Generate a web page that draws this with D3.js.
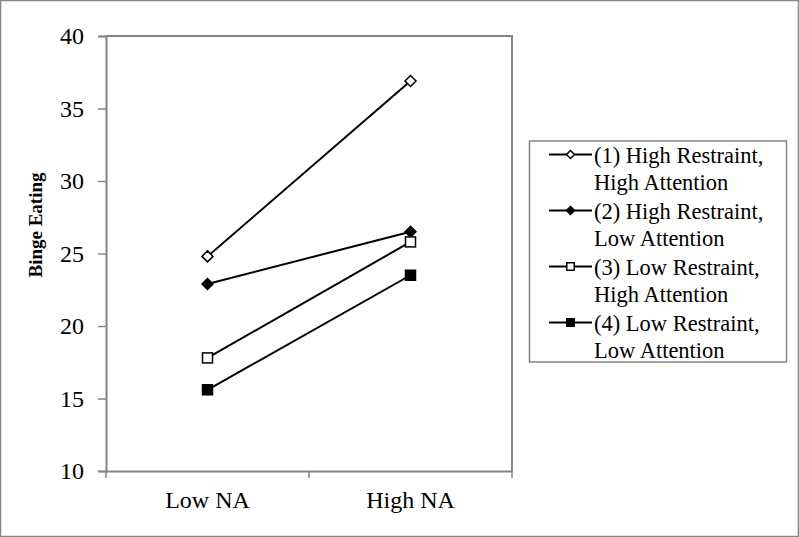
<!DOCTYPE html>
<html>
<head>
<meta charset="utf-8">
<script src="https://cdn.jsdelivr.net/npm/d3@7.9.0/dist/d3.min.js"></script>
<style>
  body { margin: 0; background: #fff; }
  svg { display: block; font-family: "Liberation Serif", "Times New Roman", serif; }
</style>
</head>
<body>
<svg id="chart" width="799" height="537"></svg>
<script>
// data
const conditions = ['Low NA', 'High NA'];
const seriesNames = [
  ['(1) High Restraint,', 'High Attention'],
  ['(2) High Restraint,', 'Low Attention'],
  ['(3) Low Restraint,', 'High Attention'],
  ['(4) Low Restraint,', 'Low Attention']
];
const highRestHighAtt = [24.8, 36.9];
const highRestLowAtt = [22.9, 26.5];
const lowRestHighAtt = [17.8, 25.8];
const lowRestLowAtt = [15.6, 23.5];
const yTicks = [10, 15, 20, 25, 30, 35, 40];

const allSeries = [highRestHighAtt, highRestLowAtt, lowRestHighAtt, lowRestLowAtt];
const markers = [
  { shape: 'diamond', fill: '#fff' },
  { shape: 'diamond', fill: '#000' },
  { shape: 'square', fill: '#fff' },
  { shape: 'square', fill: '#000' }
];

const svg = d3.select('#chart');
const gray = '#858585';

// outer frame
svg.append('rect')
  .attr('x', 0.5).attr('y', 0.5)
  .attr('width', 798).attr('height', 536)
  .attr('fill', 'none').attr('stroke', gray).attr('stroke-width', 1.5);

const plot = { left: 106, right: 512, top: 36, bottom: 471 };

let x = d3.scaleBand().domain(conditions).range([plot.left, plot.right]);
let y = d3.scaleLinear().domain([10, 40]).range([plot.bottom, plot.top]);

// plot frame (top and right)
svg.append('path')
  .attr('d', `M${plot.left},${plot.top}H${plot.right}V${plot.bottom}`)
  .attr('fill', 'none').attr('stroke', gray).attr('stroke-width', 2);

let yAxis = svg.append('g')
  .attr('transform', `translate(${plot.left},0)`)
  .call(d3.axisLeft(y).tickValues(yTicks).tickSize(8).tickPadding(14));

let xAxis = svg.append('g')
  .attr('transform', `translate(0,${plot.bottom})`)
  .call(d3.axisBottom(x).tickSize(0).tickPadding(20));

// band boundary ticks on the x axis
xAxis.selectAll('.edge')
  .data([plot.left, x('High NA'), plot.right])
  .enter().append('line')
  .attr('x1', d => d).attr('x2', d => d)
  .attr('y1', 0).attr('y2', 7)
  .attr('stroke', gray).attr('stroke-width', 1.5);

[yAxis, xAxis].forEach(g => {
  g.select('.domain').attr('stroke', gray).attr('stroke-width', 2);
  g.selectAll('.tick line').attr('stroke', gray).attr('stroke-width', 1.5);
  g.selectAll('.tick text')
    .attr('fill', '#000')
    .style('font-size', '24px')
    .style('font-family', '"Liberation Serif", serif');
});
xAxis.selectAll('.tick text').attr('dy', '0.71em');

svg.append('text')
  .attr('transform', 'translate(42,225) rotate(-90)')
  .attr('text-anchor', 'middle')
  .style('font-size', '19px')
  .style('font-weight', 'bold')
  .text('Binge Eating');

function drawMarker(g, m, cx, cy, size) {
  if (m.shape === 'diamond') {
    let r = size / 2;
    g.append('path')
      .attr('d', `M${cx},${cy - r}L${cx + r},${cy}L${cx},${cy + r}L${cx - r},${cy}Z`)
      .attr('fill', m.fill).attr('stroke', '#000').attr('stroke-width', 1.5);
  } else {
    g.append('rect')
      .attr('x', cx - size / 2).attr('y', cy - size / 2)
      .attr('width', size).attr('height', size)
      .attr('fill', m.fill).attr('stroke', '#000').attr('stroke-width', 1.5);
  }
}

let line = d3.line()
  .x((d, i) => x(conditions[i]) + x.bandwidth() / 2)
  .y(d => y(d));

allSeries.forEach((vals, s) => {
  let g = svg.append('g');
  g.append('path')
    .attr('d', line(vals))
    .attr('fill', 'none').attr('stroke', '#000').attr('stroke-width', 2);
  vals.forEach((v, i) => {
    drawMarker(g, markers[s], x(conditions[i]) + x.bandwidth() / 2, y(v),
      markers[s].shape === 'diamond' ? 11 : 10);
  });
});

// legend
let legend = svg.append('g');
legend.append('rect')
  .attr('x', 529.5).attr('y', 141)
  .attr('width', 257).attr('height', 221)
  .attr('fill', '#fff').attr('stroke', gray).attr('stroke-width', 1.5);

seriesNames.forEach((lines, s) => {
  let ly = 154.5 + s * 56;
  let g = legend.append('g');
  g.append('line')
    .attr('x1', 549).attr('x2', 592)
    .attr('y1', ly).attr('y2', ly)
    .attr('stroke', '#000').attr('stroke-width', 2);
  drawMarker(g, markers[s], 570.5, ly, markers[s].shape === 'diamond' ? 8 : 7.5);
  lines.forEach((t, k) => {
    g.append('text')
      .attr('x', 594)
      .attr('y', ly + 8 + k * 27.5)
      .style('font-size', '22.5px')
      .text(t);
  });
});
</script>
</body>
</html>
